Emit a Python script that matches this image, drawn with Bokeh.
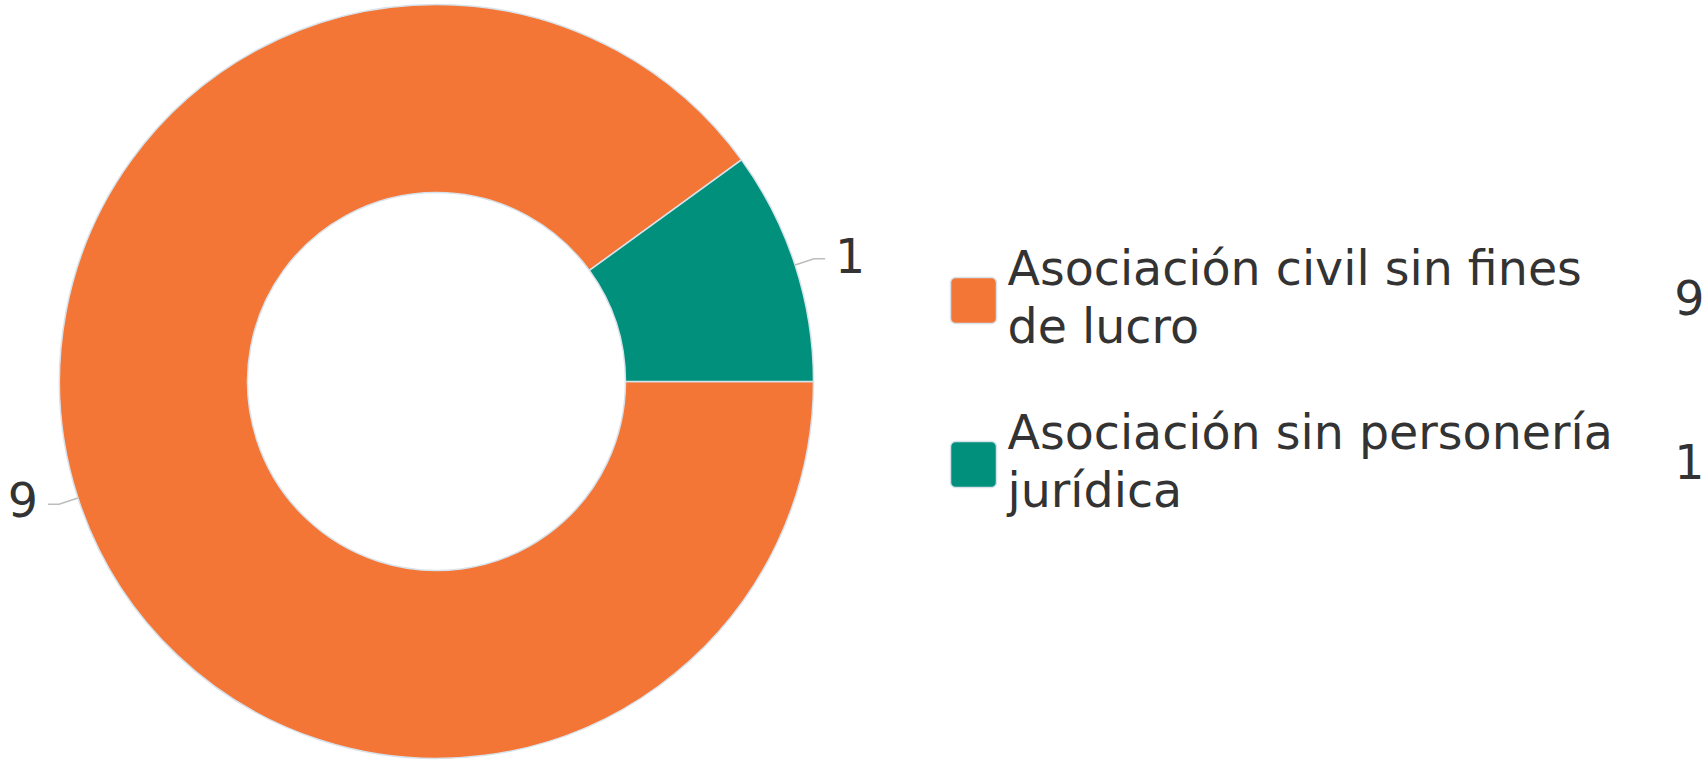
import math
import textwrap
from bokeh.plotting import figure
from bokeh.models import Range1d
from bokeh.core.properties import value
from bokeh.embed import file_html
from bokeh.resources import INLINE

# ---- data ----
categories = ["Asociación civil sin fines de lucro", "Asociación sin personería jurídica"]
counts = [9, 1]
colors = ["#F47637", "#00907C"]

# ---- layout (reference pixel space, y measured from top) ----
W, H = 1705, 760
REF_H = 760
FONT = "DejaVu Sans"
FS = "47.5px"
TXT = "#333333"
BORDER = "#d8e2ea"


def Y(y_ref):
    return REF_H - y_ref


p = figure(width=W, height=H, output_backend="svg", toolbar_location=None,
           x_range=Range1d(0, W), y_range=Range1d(REF_H - H, REF_H),
           x_axis_location=None, y_axis_location=None, min_border=0)
p.grid.visible = False
p.outline_line_color = None
p.background_fill_color = "white"
p.border_fill_color = "white"

CX, CY = 436, Y(381)
R_OUT, R_IN = 377, 189
total = sum(counts)

starts, ends, mids = [], [], []
cum = 0
for c in counts:
    a0 = -2 * math.pi * cum / total
    cum += c
    a1 = -2 * math.pi * cum / total
    starts.append(a1)
    ends.append(a0)
    mids.append((a0 + a1) / 2)

p.annular_wedge(x=CX, y=CY, inner_radius=R_IN, outer_radius=R_OUT,
                start_angle=starts, end_angle=ends, fill_color=colors,
                line_color=BORDER, line_width=1.5)

# data labels with connectors
xs, ys = [], []
lx, ly, lt, la = [], [], [], []
for c, ang in zip(counts, mids):
    ca, sa = math.cos(ang), math.sin(ang)
    x0, y0 = CX + R_OUT * ca, CY + R_OUT * sa
    x1, y1 = CX + (R_OUT + 20) * ca, CY + (R_OUT + 20) * sa
    side = 1 if ca >= 0 else -1
    x2 = x1 + side * 11
    xs.append([x0, x1, x2])
    ys.append([y0, y1, y1])
    lx.append(x2 + side * 10)
    ly.append(y1 + (3 if side > 0 else 5))
    lt.append(str(c))
    la.append("left" if side > 0 else "right")

p.multi_line(xs=xs, ys=ys, line_color="#bdbdbd", line_width=1.5)
p.text(x=lx, y=ly, text=lt, text_align=la, text_baseline="middle",
       text_font=value(FONT), text_font_size=FS, text_color=TXT)

# legend
LEG_X = 950
SQ = 46
for i, (cat, c, col) in enumerate(zip(categories, counts, colors)):
    top = 277 + i * 164
    p.quad(left=LEG_X, right=LEG_X + SQ, top=Y(top), bottom=Y(top + SQ),
           fill_color=col, line_color=BORDER, line_width=1.5, border_radius=5)
    lines = textwrap.wrap(cat, 26)
    base = top - 9
    p.text(x=[LEG_X + 57] * len(lines), y=[Y(base + j * 58) for j in range(len(lines))],
           text=lines, text_align="left", text_baseline="alphabetic",
           text_font=value(FONT), text_font_size=FS, text_color=TXT)
    p.text(x=[1704], y=[Y(top + SQ / 2 - 3)], text=[str(c)], text_align="right",
           text_baseline="middle", text_font=value(FONT), text_font_size=FS, text_color=TXT)

open("out.html", "w").write(file_html(p, INLINE))
